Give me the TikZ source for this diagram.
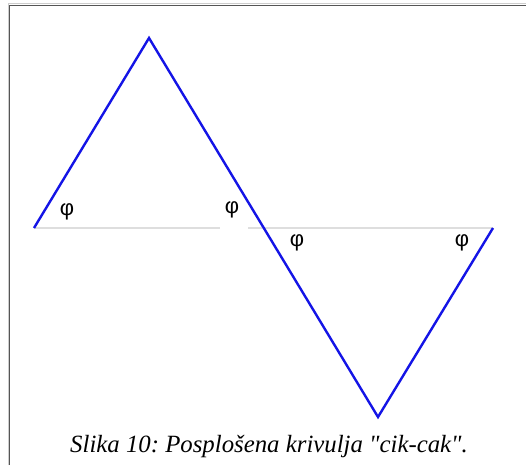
\documentclass[tikz,border=0pt]{standalone}
\usepackage{fontspec}
\setmainfont{Liberation Serif}
\newfontfamily\capfont{Liberation Serif}
\newfontfamily\phifont{Liberation Sans}
\definecolor{zigblue}{RGB}{20,20,230}
\definecolor{axisgray}{RGB}{222,222,222}
\definecolor{framegray}{RGB}{85,85,85}
\definecolor{framelight}{RGB}{205,205,205}
\frenchspacing
\begin{document}
\begin{tikzpicture}[x=1pt,y=-1pt,
  zig/.style={draw=zigblue,line width=2.4pt,line join=miter},
  axisline/.style={draw=axisgray,line width=1.3pt},
  frameline/.style={draw=framegray,line width=1.8pt},
  philab/.style={font=\phifont\fontsize{22}{24}\selectfont,inner sep=0pt},
  captext/.style={font=\capfont\itshape\fontsize{24.8}{28}\selectfont,inner sep=0pt}]
\useasboundingbox (0,0) rectangle (526,465);
\fill[white] (0,0) rectangle (526,465);
% frame
\draw[framelight,line width=1pt] (8,465) -- (8,3.5) -- (526,3.5);
\draw[frameline] (9.5,465) -- (9.5,5.5) -- (526,5.5);
% points
\coordinate (A) at (34,228);
\coordinate (P) at (149,38);
\coordinate (V) at (378,417);
\coordinate (E) at (493,228);
\coordinate (G1) at (220,228);
\coordinate (G2) at (248,228);
% axis
\draw[axisline] (A) -- (G1);
\draw[axisline] (G2) -- (E);
% zigzag
\draw[zig] (A) -- (P) -- (V) -- (E);
% labels
\node[philab] (f1) at (67,212) {φ};
\node[philab] (f2) at (232,210) {φ};
\node[philab] (f3) at (297,243) {φ};
\node[philab] (f4) at (462,243) {φ};
% caption
\node[captext] (c) at (269,447) {Slika 10: Posplošena krivulja "cik-cak".};
\end{tikzpicture}
\end{document}
